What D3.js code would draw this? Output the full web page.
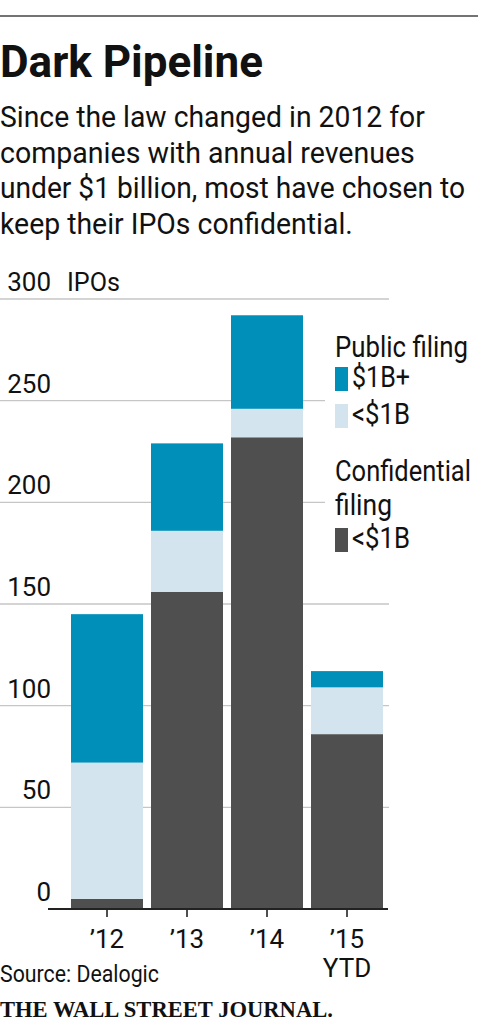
<!DOCTYPE html>
<html>
<head>
<meta charset="utf-8">
<script src="https://cdn.jsdelivr.net/npm/d3@7"></script>
<style>
  body { margin: 0; background: #fff; }
  svg { display: block; font-family: Roboto, "Open Sans", sans-serif; }
</style>
</head>
<body>
<svg id="chart" width="482" height="1024"></svg>
<script>
// data
const years = ["’12", "’13", "’14", "’15"]
const confidentialSmall = [5, 156, 232, 86]
const publicSmall = [67, 30, 14, 23]
const publicLarge = [73, 43, 46, 8]
const yTicks = [0, 50, 100, 150, 200, 250, 300]

const keys = ["confidentialSmall", "publicSmall", "publicLarge"]
const colors = { confidentialSmall: "#4f4f4f", publicSmall: "#d3e4ee", publicLarge: "#008fb8" }

const rows = years.map((y, i) => ({
  year: y,
  confidentialSmall: confidentialSmall[i],
  publicSmall: publicSmall[i],
  publicLarge: publicLarge[i]
}))

const svg = d3.select("#chart")

// place a text at (x,y) and squeeze it horizontally to width w (narrow news font)
function put(parent, x, y, str, w) {
  const t = parent.append("text").attr("x", 0).attr("y", 0).text(str)
  let k = 1
  if (w && t.node().getComputedTextLength() > w) k = w / t.node().getComputedTextLength()
  t.attr("transform", `translate(${x},${y}) scale(${k},1)`)
  return t
}

// top rule
svg.append("line")
  .attr("x1", 0).attr("x2", 478).attr("y1", 16).attr("y2", 16)
  .attr("stroke", "#444").attr("stroke-width", 1.3)

const head = svg.append("g").attr("font-size", 44).attr("font-weight", 700).attr("fill", "#111")
put(head, 0, 77, "Dark Pipeline", 272)

const sub = [
  ["Since the law changed in 2012 for", 425],
  ["companies with annual revenues", 415],
  ["under $1 billion, most have chosen to", 465],
  ["keep their IPOs confidential.", 353]
]
const subG = svg.append("g").attr("font-size", 29.5).attr("fill", "#111")
sub.forEach((s, i) => put(subG, 0, 127 + i * 35.5, s[0], s[1]))

// scales
const y = d3.scaleLinear().domain([0, 300]).range([909, 299])
const x = d3.scaleBand().domain(years).range([67, 387]).paddingInner(0.1).paddingOuter(0.05)

// gridlines + labels
const grid = svg.append("g")
grid.selectAll("line").data(yTicks.filter(d => d > 0)).join("line")
  .attr("x1", 0).attr("x2", 389)
  .attr("y1", d => y(d)).attr("y2", d => y(d))
  .attr("stroke", "#c6c6c6").attr("stroke-width", 1.4)

const yl = svg.append("g").attr("font-size", 26).attr("fill", "#111").attr("text-anchor", "end")
yTicks.forEach(d => put(yl, 51, y(d) - 8, String(d), String(d).length * 15))

const ipo = svg.append("g").attr("font-size", 26).attr("fill", "#111")
put(ipo, 67, y(300) - 8, "IPOs", 53)

// legend backing hides the grid behind it
svg.append("rect").attr("x", 325).attr("y", 320).attr("width", 157).attr("height", 250).attr("fill", "#fff")

// bars
const series = d3.stack().keys(keys)(rows)
svg.append("g").selectAll("g").data(series).join("g")
  .attr("fill", d => colors[d.key])
  .selectAll("rect").data(d => d).join("rect")
  .attr("x", d => x(d.data.year))
  .attr("width", x.bandwidth())
  .attr("y", d => y(d[1]))
  .attr("height", d => y(d[0]) - y(d[1]))

// x axis
const xAxis = svg.append("g").attr("transform", `translate(0,${y(0)})`)
  .call(d3.axisBottom(x).tickSize(8).tickPadding(0).tickFormat(""))
xAxis.select(".domain").remove()
xAxis.selectAll(".tick line").attr("stroke", "#222").attr("stroke-width", 1.6)
xAxis.append("line").attr("x1", 48).attr("x2", 388)
  .attr("stroke", "#222").attr("stroke-width", 2.2)

const xl = svg.append("g").attr("font-size", 26).attr("fill", "#111").attr("text-anchor", "middle")
years.forEach(d => put(xl, x(d) + x.bandwidth() / 2, 948, d, 44))
put(xl, x(years[3]) + x.bandwidth() / 2, 977, "YTD", 52)

// legend
const lg = svg.append("g").attr("fill", "#111").attr("font-size", 29)
put(lg, 335, 357, "Public filing", 133)
put(lg, 335, 481, "Confidential", 136)
put(lg, 335, 515, "filing", 57)

const items = [
  { key: "publicLarge", label: "$1B+", top: 367, base: 387 },
  { key: "publicSmall", label: "<$1B", top: 404, base: 424 },
  { key: "confidentialSmall", label: "<$1B", top: 528, base: 548 }
]
items.forEach(it => {
  lg.append("rect").attr("x", 335).attr("y", it.top).attr("width", 13).attr("height", 24)
    .attr("fill", colors[it.key])
  put(lg, 352, it.base, it.label, 58)
})

// source + masthead
const src = svg.append("g").attr("font-size", 24).attr("fill", "#111")
put(src, 0, 982, "Source: Dealogic", 159)

const mast = svg.append("g").attr("font-family", "'Liberation Serif', 'DejaVu Serif', serif")
  .attr("font-size", 24).attr("font-weight", 700).attr("fill", "#111")
put(mast, 0, 1017, "THE WALL STREET JOURNAL.", 333)
</script>
</body>
</html>
